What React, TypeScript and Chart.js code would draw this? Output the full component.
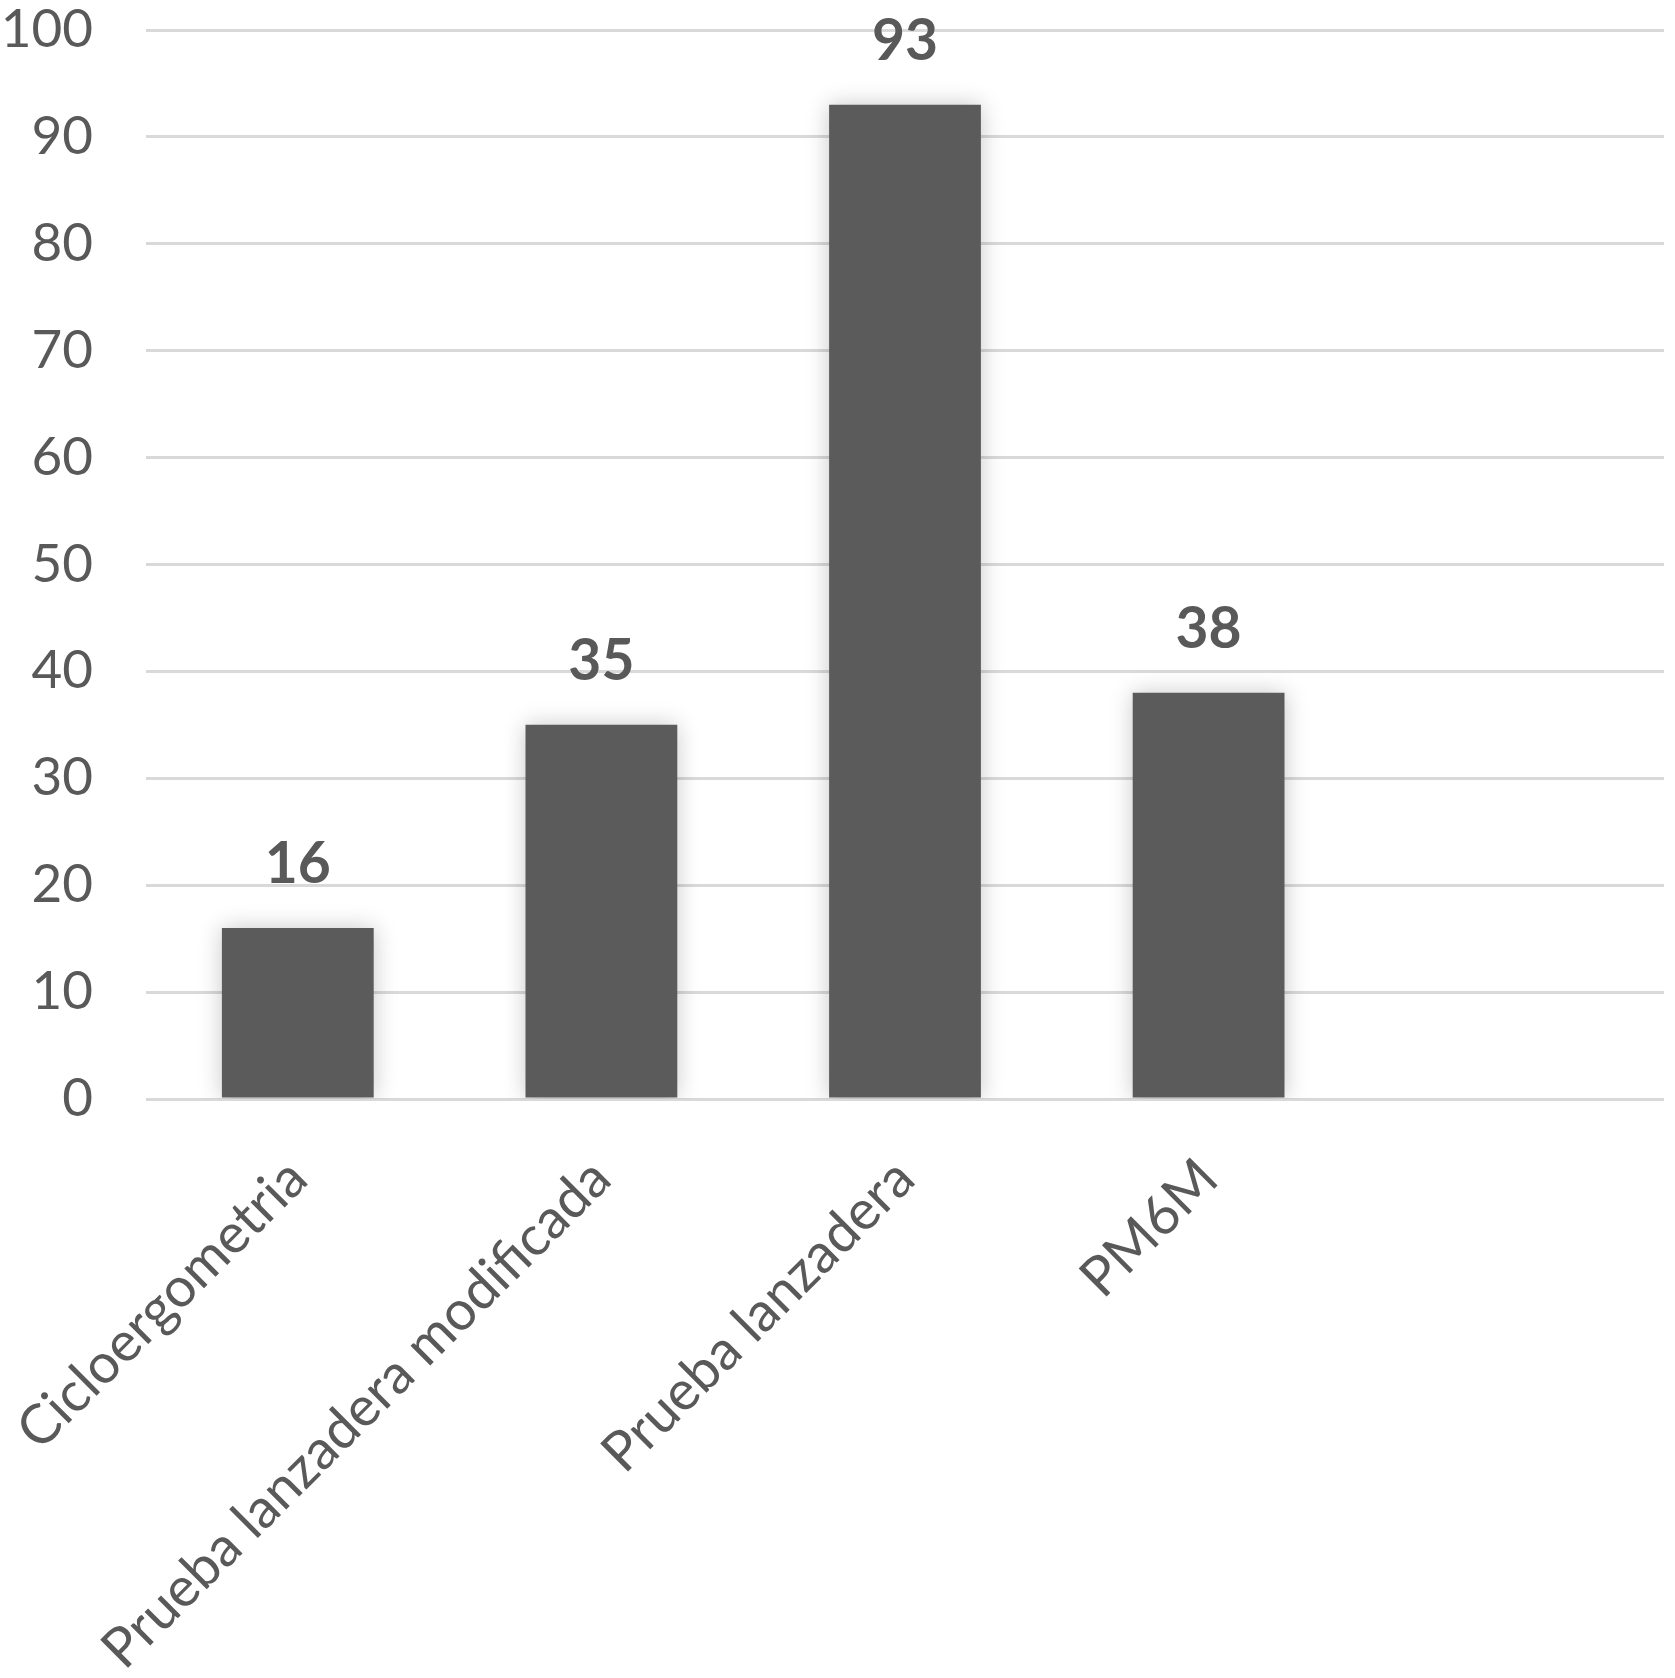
import React, { useEffect, useRef } from "react";
import { Chart, registerables } from "chart.js";

Chart.register(...registerables);

const categories = ["Cicloergometria", "Prueba lanzadera modificada", "Prueba lanzadera", "PM6M", ""];
const values = [16, 35, 93, 38, null];
const yMin = 0;
const yMax = 100;
const yStep = 10;

const W = 1675;
const H = 1678;
const TEXT = "#595959";
const BAR = "#5b5b5b";
const GRID = "#d9d9d9";
const FONT = "Lato";

const barDecor = {
  id: "barDecor",
  beforeDatasetsDraw(chart: any) {
    const ctx = chart.ctx;
    ctx.save();
    ctx.shadowColor = "rgba(0,0,0,0.22)";
    ctx.shadowBlur = 22;
    ctx.shadowOffsetX = 0;
    ctx.shadowOffsetY = 0;
  },
  afterDatasetsDraw(chart: any) {
    const ctx = chart.ctx;
    ctx.restore();
    ctx.save();
    ctx.font = `bold 57px ${FONT}`;
    ctx.fillStyle = TEXT;
    ctx.textAlign = "center";
    ctx.textBaseline = "alphabetic";
    const meta = chart.getDatasetMeta(0);
    meta.data.forEach((el: any, i: number) => {
      const v = chart.data.datasets[0].data[i];
      if (v === null || v === undefined) return;
      ctx.fillText(String(v), el.x, el.y - 45);
    });
    ctx.restore();
  },
};

export default function App() {
  const ref = useRef<HTMLCanvasElement | null>(null);
  useEffect(() => {
    document.body.style.margin = "0";
    const canvas = ref.current!;
    const chart = new Chart(canvas, {
      type: "bar",
      data: {
        labels: categories,
        datasets: [
          {
            data: values as any,
            backgroundColor: BAR,
            borderWidth: 0,
            barPercentage: 0.5,
            categoryPercentage: 1,
          },
        ],
      },
      options: {
        responsive: false,
        animation: false,
        devicePixelRatio: 1,
        layout: { padding: { top: 30, right: 11, left: 0, bottom: 0 } },
        plugins: { legend: { display: false }, tooltip: { enabled: false } },
        scales: {
          x: {
            grid: { display: false, drawTicks: false },
            border: { display: false },
            ticks: {
              autoSkip: false,
              maxRotation: 45,
              minRotation: 45,
              padding: 47,
              color: TEXT,
              font: { family: FONT, size: 55 },
            },
            afterFit: (s: any) => {
              s.height = H - 1099;
              s.paddingLeft = 0;
              s.paddingRight = 0;
            },
          },
          y: {
            min: yMin,
            max: yMax,
            grid: { color: GRID, lineWidth: 3, drawTicks: false },
            border: { display: false },
            ticks: {
              stepSize: yStep,
              padding: 53,
              color: TEXT,
              font: { family: FONT, size: 53, lineHeight: 1 },
            },
            afterFit: (s: any) => {
              s.width = 146;
              s.paddingTop = 0;
              s.paddingBottom = 0;
            },
          },
        },
      },
      plugins: [barDecor],
    });
    return () => chart.destroy();
  }, []);
  return (
    <div style={{ width: W, height: H }}>
      <canvas ref={ref} width={W} height={H} style={{ display: "block" }} />
    </div>
  );
}
